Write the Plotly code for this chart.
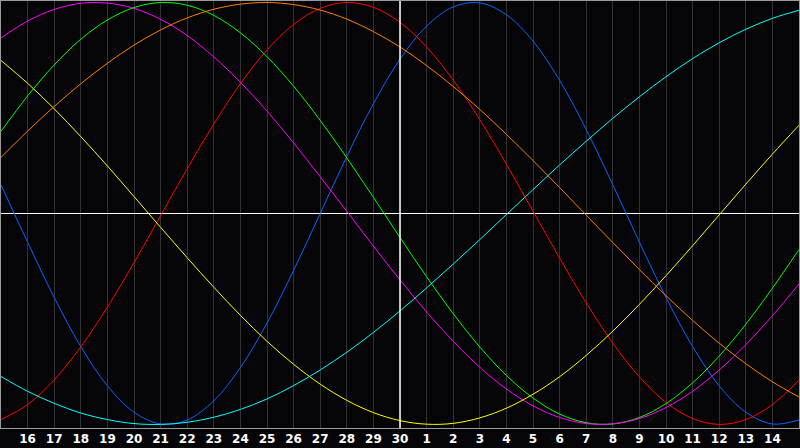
import plotly.graph_objects as go

# Day index across the 30-day window (0 = the 15th, 15 = the 30th, 30 = the 15th of next month)
day_index = list(range(31))
tick_positions = list(range(1, 30))
tick_labels = ["16", "17", "18", "19", "20", "21", "22", "23", "24", "25", "26", "27", "28", "29", "30",
               "1", "2", "3", "4", "5", "6", "7", "8", "9", "10", "11", "12", "13", "14"]
today_index = 15

# Cycle values in percent (-100..100) at each day
physical = [13.6, -13.6, -39.8, -63.1, -81.7, -94.2, -99.8, -97.9, -88.8, -73.1, -52.0, -27.0, 0.0,
            27.0, 52.0, 73.1, 88.8, 97.9, 99.8, 94.2, 81.7, 63.1, 39.8, 13.6, -13.6, -39.8, -63.1,
            -81.7, -94.2, -99.8, -97.9]
emotional = [-97.7, -90.6, -78.9, -63.2, -44.4, -23.3, -1.1, 21.2, 42.4, 61.5, 77.5, 89.6, 97.2,
             100.0, 97.7, 90.6, 78.9, 63.2, 44.4, 23.3, 1.1, -21.2, -42.4, -61.5, -77.5, -89.6,
             -97.2, -100.0, -97.7, -90.6, -78.9]
intellectual = [38.9, 55.7, 70.4, 82.6, 91.7, 97.6, 100.0, 98.7, 93.9, 85.6, 74.3, 60.3, 44.1,
                26.3, 7.6, -11.4, -30.0, -47.5, -63.3, -76.8, -87.5, -95.1, -99.2, -99.8, -96.7,
                -90.1, -80.3, -67.6, -52.5, -35.4, -17.1]
intuitive = [83.2, 91.2, 96.7, 99.6, 99.7, 97.2, 92.0, 84.3, 74.2, 62.2, 48.5, 33.4, 17.4, 1.0,
             -15.5, -31.5, -46.7, -60.6, -72.9, -83.2, -91.2, -96.7, -99.6, -99.7, -97.2, -92.0,
             -84.3, -74.2, -62.2, -48.5, -33.4]
aesthetic = [72.5, 61.7, 49.6, 36.4, 22.5, 8.0, -6.6, -21.0, -35.0, -48.3, -60.6, -71.5, -80.9,
             -88.6, -94.4, -98.2, -99.9, -99.5, -96.9, -92.3, -85.7, -77.4, -67.3, -55.8, -43.1,
             -29.5, -15.3, -0.7, 13.9, 28.1, 41.8]
awareness = [26.6, 39.0, 50.7, 61.5, 71.2, 79.8, 87.0, 92.7, 96.8, 99.2, 100.0, 99.0, 96.4, 92.1,
             86.2, 78.9, 70.1, 60.2, 49.3, 37.5, 25.1, 12.3, -0.8, -13.8, -26.6, -39.0, -50.7,
             -61.5, -71.2, -79.8, -87.0]
spiritual = [-77.3, -84.3, -90.0, -94.6, -97.7, -99.6, -100.0, -99.0, -96.6, -92.9, -87.9, -81.6,
             -74.2, -65.8, -56.4, -46.2, -35.3, -24.0, -12.4, -0.5, 11.3, 23.0, 34.2, 45.1, 55.3,
             64.8, 73.4, 80.9, 87.3, 92.5, 96.3]

series = [
    ("Physical", physical, "#0a64ff"),
    ("Emotional", emotional, "#ff0000"),
    ("Intellectual", intellectual, "#00ff00"),
    ("Intuitive", intuitive, "#ff00ff"),
    ("Aesthetic", aesthetic, "#ffff00"),
    ("Awareness", awareness, "#ff8000"),
    ("Spiritual", spiritual, "#00ffff"),
]

fig = go.Figure()
for name, vals, color in series:
    fig.add_trace(go.Scatter(
        x=day_index, y=vals, mode="lines", name=name,
        line=dict(color=color, width=1, shape="spline", smoothing=1.0),
        hoverinfo="skip",
    ))

# White marker line at the "today" position (the 30th)
fig.add_vline(x=today_index, line=dict(color="#ffffff", width=1.5), layer="above")

fig.update_layout(
    width=800, height=448,
    paper_bgcolor="#050508", plot_bgcolor="#050508",
    margin=dict(l=1, r=1, t=1, b=20),
    showlegend=False,
    xaxis=dict(
        range=[0, 30], tickmode="array", tickvals=tick_positions,
        ticktext=["<b>%s</b>" % t for t in tick_labels],
        showgrid=True, gridcolor="#333333", gridwidth=1,
        zeroline=False, ticks="", ticklen=0,
        showline=True, linecolor="#9a9a9a", linewidth=1, mirror=True,
        tickfont=dict(family="DejaVu Sans", size=12, color="#ffffff"),
        fixedrange=True,
    ),
    yaxis=dict(
        range=[-101.7, 100.7], showticklabels=False, showgrid=False,
        zeroline=True, zerolinecolor="#ffffff", zerolinewidth=1,
        showline=True, linecolor="#9a9a9a", linewidth=1, mirror=True,
        ticks="", fixedrange=True,
    ),
)

fig.write_html(
    "out.html",
    config={"displayModeBar": False},
    post_script="document.body.style.margin='0';document.body.style.background='#050508';",
)
